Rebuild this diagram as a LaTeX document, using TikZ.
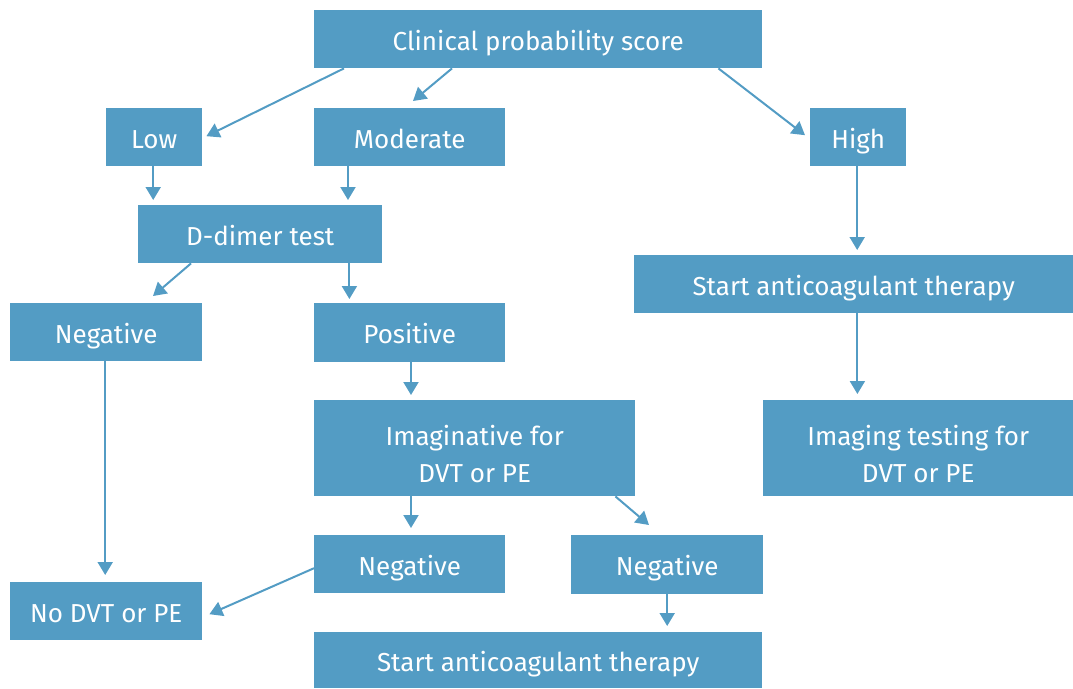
\documentclass[tikz,border=0pt]{standalone}
\definecolor{flowblue}{HTML}{539CC4}
\usepackage{fontspec}
\setmainfont{Fira Sans}
\usepackage{tikz}
\usetikzlibrary{arrows.meta,positioning,calc}

\begin{document}
\begin{tikzpicture}[x=1pt,y=-1pt,
  box/.style={fill=flowblue, text=white, anchor=north west, inner sep=0pt, align=center,
    font=\fontsize{26}{37}\selectfont, text height=22pt, text depth=0pt},
  twoline/.style={text height=68pt, text depth=0pt},
  arr/.style={flowblue, line width=2pt, -{Triangle[length=13pt,width=15pt]}}]
\useasboundingbox (0,0) rectangle (1073,688);

% Score and its three levels
\node[box, minimum width=448pt, minimum height=58pt] (score) at (314,10) {Clinical probability score};
\node[box, minimum width=96pt, minimum height=58pt] (low) at (106,108) {Low};
\node[box, minimum width=191pt, minimum height=58pt] (moderate) at (314,108) {Moderate};
\node[box, minimum width=96pt, minimum height=58pt] (high) at (810,108) {High};

% D-dimer branch
\node[box, minimum width=244pt, minimum height=58pt] (ddimer) at (138,205) {D-dimer test};
\node[box, minimum width=192pt, minimum height=58pt] (negA) at (10,303) {Negative};
\node[box, minimum width=191pt, minimum height=59pt] (positive) at (314,303) {Positive};
\node[box, twoline, minimum width=321pt, minimum height=96pt] (imaging) at (314,400) {Imaginative for\\DVT or PE};
\node[box, minimum width=191pt, minimum height=58pt] (negB) at (314,535) {Negative};
\node[box, minimum width=192pt, minimum height=59pt] (negC) at (571,535) {Negative};
\node[box, minimum width=192pt, minimum height=58pt] (nodvt) at (10,582) {No DVT or PE};
\node[box, minimum width=448pt, minimum height=56pt] (startB) at (314,632) {Start anticoagulant therapy};

% High branch
\node[box, minimum width=439pt, minimum height=58pt] (startA) at (634,255) {Start anticoagulant therapy};
\node[box, twoline, minimum width=310pt, minimum height=96pt] (imgtest) at (763,400) {Imaging testing for\\DVT or PE};

% arrow start points
\coordinate (m1) at ([xshift=34pt]moderate.south west);
\coordinate (d1) at ([xshift=-33pt]ddimer.south east);
\coordinate (s1) at ([xshift=-216pt]startA.south east);
\coordinate (p1) at ([xshift=97pt]positive.south west);
\coordinate (i1) at ([xshift=97pt]imaging.south west);

% Arrows
\draw[arr] ([xshift=30pt]score.south west) -- ([xshift=4pt,yshift=1pt]low.east);
\draw[arr] ([xshift=138pt]score.south west) -- ([xshift=99pt,yshift=7pt]moderate.north west);
\draw[arr] ([xshift=-44pt]score.south east) -- ([xshift=-5pt,yshift=2pt]high.west);
\draw[arr] ([xshift=-1pt]low.south) -- ([xshift=-1pt,yshift=5pt]low.south |- ddimer.north);
\draw[arr] (m1) -- ([yshift=5pt]m1 |- ddimer.north);
\draw[arr] ([xshift=-1pt]high.south) -- ([xshift=-1pt,yshift=5pt]high.south |- startA.north);
\draw[arr] ([xshift=53pt]ddimer.south west) -- ([xshift=143pt,yshift=7pt]negA.north west);
\draw[arr] (d1) -- ([yshift=4pt]d1 |- positive.north);
\draw[arr] (s1) -- ([yshift=6pt]s1 |- imgtest.north);
\draw[arr] (p1) -- ([yshift=5pt]p1 |- imaging.north);
\draw[arr] ([xshift=-1pt]negA.south) -- ([xshift=-1pt,yshift=7pt]negA.south |- nodvt.north);
\draw[arr] (i1) -- ([yshift=7pt]i1 |- negB.north);
\draw[arr] ([xshift=-20pt]imaging.south east) -- ([xshift=78pt,yshift=10pt]negC.north west);
\draw[arr] ([yshift=-4pt]negB.west) -- ([xshift=7pt,yshift=-3pt]nodvt.east);
\draw[arr] (negC.south) -- ([yshift=6pt]negC.south |- startB.north);
\end{tikzpicture}
\end{document}
